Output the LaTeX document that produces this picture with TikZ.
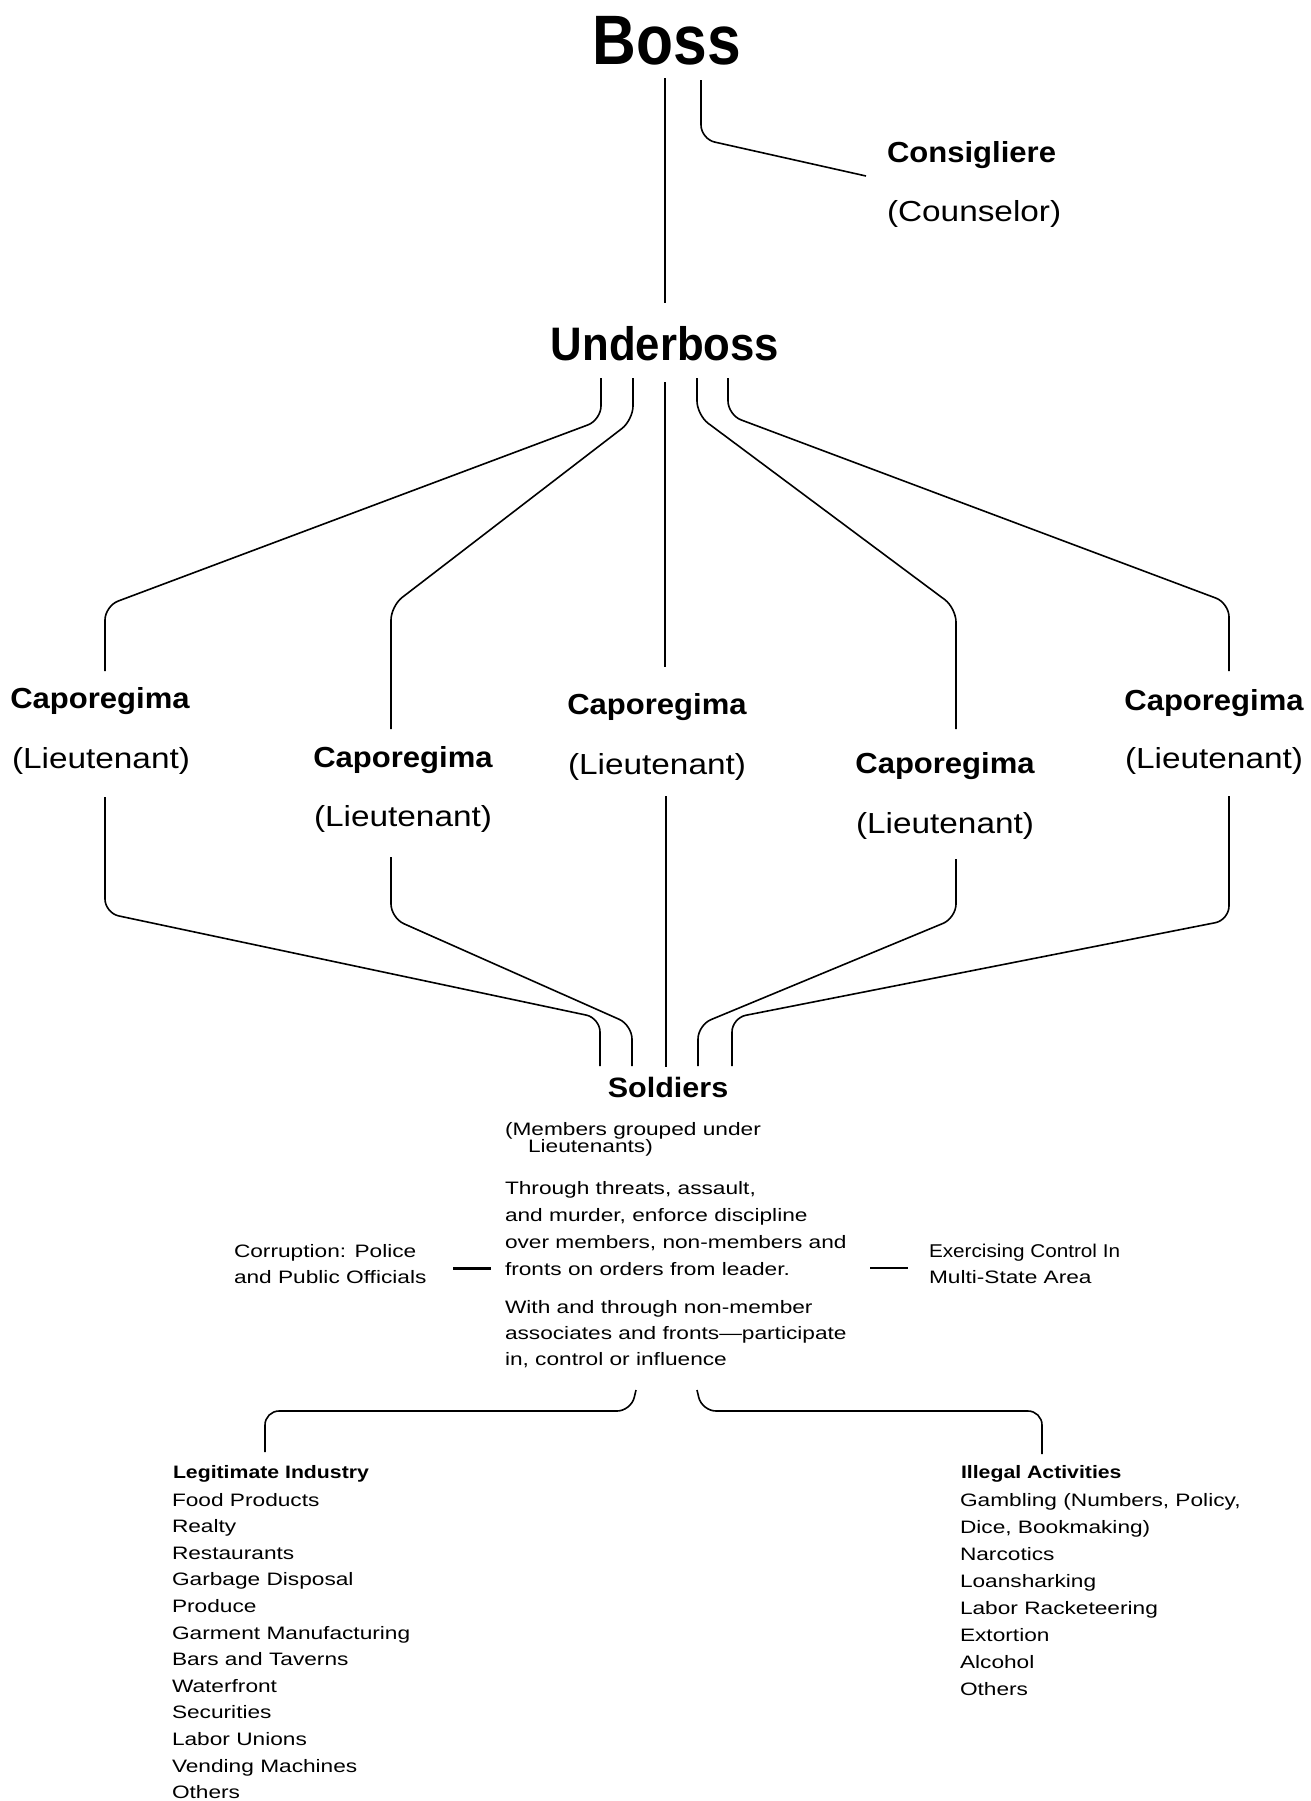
\documentclass[tikz,border=0pt]{standalone}
\usepackage{fontspec}
\setmainfont{Liberation Sans}
\newfontfamily\fBoss{Liberation Sans}[FakeStretch=0.865]
\newfontfamily\fUnder{Liberation Sans}[FakeStretch=0.93]
\newfontfamily\fCap{Liberation Sans}[FakeStretch=1.07]
\newfontfamily\fLt{Liberation Sans}[FakeStretch=1.15]
\newfontfamily\fSm{Liberation Sans}[FakeStretch=1.26]
\newfontfamily\fSmN{Liberation Sans}[FakeStretch=1.12]
\newfontfamily\fSmB{Liberation Sans}[FakeStretch=1.18]
\newfontfamily\fSold{Liberation Sans}[FakeStretch=1.09]
\tikzset{
  txt/.style={inner sep=0pt, outer sep=0pt},
  bosst/.style={txt, anchor=base, font=\fBoss\bfseries\fontsize{70}{80}\selectfont},
  undert/.style={txt, anchor=base, font=\fUnder\bfseries\fontsize{47}{54}\selectfont},
  capt/.style={txt, anchor=base, font=\fCap\bfseries\fontsize{29}{34}\selectfont},
  ltt/.style={txt, anchor=base, font=\fLt\fontsize{29}{34}\selectfont},
  soldt/.style={txt, anchor=base, font=\fSold\bfseries\fontsize{28}{32}\selectfont},
  smt/.style={txt, anchor=base west, font=\fSm\fontsize{18}{26}\selectfont},
  smnt/.style={txt, anchor=base west, font=\fSmN\fontsize{18.5}{26}\selectfont},
  smbt/.style={txt, anchor=base west, font=\fSmB\bfseries\fontsize{18}{26}\selectfont},
  conn/.style={line width=1.6pt, rounded corners=14pt},
}
\begin{document}
\begin{tikzpicture}[x=1pt, y=-1pt]
\useasboundingbox (0,0) rectangle (1311,1801);

% ---- headings
\node[bosst] (boss) at (667,64) {Boss};
\node[capt, anchor=base west] (cons) at (887,162) {Consigliere};
\node[ltt, anchor=base west] (couns) at (887,221) {(Counselor)};
\node[undert] (under) at (665,360) {Underboss};

% ---- caporegimi
\node[capt] (c1) at (100,708) {Caporegima};
\node[ltt]  (l1) at (101,768) {(Lieutenant)};
\node[capt] (c2) at (403,767) {Caporegima};
\node[ltt]  (l2) at (403,826) {(Lieutenant)};
\node[capt] (c3) at (657,714) {Caporegima};
\node[ltt]  (l3) at (657,774) {(Lieutenant)};
\node[capt] (c4) at (945,773) {Caporegima};
\node[ltt]  (l4) at (945,833) {(Lieutenant)};
\node[capt] (c5) at (1214,710) {Caporegima};
\node[ltt]  (l5) at (1214,768) {(Lieutenant)};

% ---- soldiers
\node[soldt] (sold) at (668,1097) {Soldiers};
\node[smt] (mem1) at (505,1135) {(Members grouped under};
\node[smt] (mem2) at (528,1152) {Lieutenants)};
\foreach \t [count=\i] in {{Through threats, assault,},{and murder, enforce discipline},{over members, non-members and},{fronts on orders from leader.}}
  \node[smt] (thr\i) at (505,{1194+27.2*(\i-1)}) {\t};
\foreach \t [count=\i] in {{With and through non-member},{associates and fronts—participate},{in, control or influence}}
  \node[smt] (wth\i) at (505,{1313+26*(\i-1)}) {\t};

\node[smt] (cor1) at (234,1257) {Corruption: Police};
\node[smt] (cor2) at (234,1283) {and Public Officials};
\node[smnt] (exc1) at (929,1257) {Exercising Control In};
\node[smt] (exc2) at (929,1283) {Multi-State Area};

% ---- lists
\node[smbt] (legh) at (173,1478) {Legitimate Industry};
\foreach \t [count=\i] in {Food Products,Realty,Restaurants,Garbage Disposal,Produce,Garment Manufacturing,Bars and Taverns,Waterfront,Securities,Labor Unions,Vending Machines,Others}
  \node[smt] (leg\i) at (172,{1506+26.6*(\i-1)}) {\t};
\node[smbt] (illh) at (961,1478) {Illegal Activities};
\foreach \t [count=\i] in {{Gambling (Numbers, Policy,},{Dice, Bookmaking)},Narcotics,Loansharking,Labor Racketeering,Extortion,Alcohol,Others}
  \node[smt] (ill\i) at (960,{1506+27*(\i-1)}) {\t};

% ---- connector end points
\coordinate (bA) at (665,78);   \coordinate (uA) at (665,303);
\coordinate (bB) at (701,80);   \coordinate (cB) at (866,176);
\coordinate (u1) at (601,378);  \coordinate (k1) at (105,671);
\coordinate (u2) at (633,378);  \coordinate (k2) at (391,729);
\coordinate (u3) at (665,382);  \coordinate (k3) at (665,667);
\coordinate (u4) at (697,378);  \coordinate (k4) at (956,729);
\coordinate (u5) at (728,378);  \coordinate (k5) at (1229,671);
\coordinate (d1) at (105,797);  \coordinate (s1) at (600,1066);
\coordinate (d2) at (391,857);  \coordinate (s2) at (632,1066);
\coordinate (d3) at (666,796);  \coordinate (s3) at (666,1067);
\coordinate (d4) at (956,859);  \coordinate (s4) at (698,1066);
\coordinate (d5) at (1229,796); \coordinate (s5) at (732,1066);
\coordinate (sl) at (636,1390); \coordinate (gl) at (265,1452);
\coordinate (sr) at (697,1390); \coordinate (gr) at (1042,1454);
\coordinate (ca) at (453,1268); \coordinate (cb) at (491,1268);
\coordinate (ea) at (870,1268); \coordinate (eb) at (908,1268);

% ---- connectors
\draw[conn] (bA) -- (uA);
\draw[conn] (bB) -- (701,139) -- (cB);
\draw[conn] (u1) -- (601,420) -- (105,606) -- (k1);
\draw[conn] (u2) -- (633,420) -- (391,606) -- (k2);
\draw[conn] (u3) -- (k3);
\draw[conn] (u4) -- (697,415) -- (956,608) -- (k4);
\draw[conn] (u5) -- (728,415) -- (1229,603) -- (k5);
\draw[conn] (d1) -- (105,913) -- (600,1018) -- (s1);
\draw[conn] (d2) -- (391,918) -- (632,1025) -- (s2);
\draw[conn] (d3) -- (s3);
\draw[conn] (d4) -- (956,918) -- (698,1025) -- (s4);
\draw[conn] (d5) -- (1229,920) -- (732,1018) -- (s5);
\draw[conn] (sl) -- (631,1411) -- (265,1411) -- (gl);
\draw[conn] (sr) -- (702,1411) -- (1042,1411) -- (gr);
\draw[line width=3pt] (ca) -- (cb);
\draw[line width=1.5pt] (ea) -- (eb);
\end{tikzpicture}
\end{document}
